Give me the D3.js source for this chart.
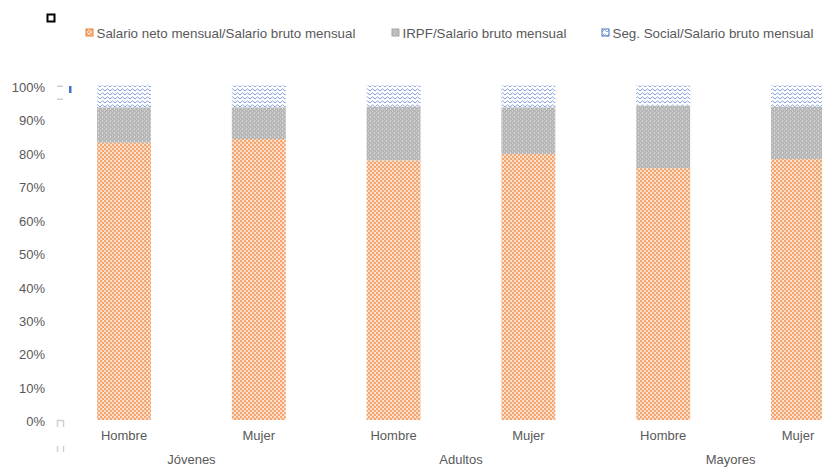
<!DOCTYPE html>
<html>
<head>
<meta charset="utf-8">
<script src="https://cdn.jsdelivr.net/npm/d3@7"></script>
<style>
  body { margin: 0; background: #fff; }
  text { font-family: "Liberation Sans", Arial, sans-serif; fill: #595959; }
</style>
</head>
<body>
<script>
// data (share of gross monthly salary, %)
var groups = ["Jóvenes", "Adultos", "Mayores"];
var sexes = ["Hombre", "Mujer"];
var netoVals = [82.9, 84.0, 77.6, 79.5, 75.3, 78.0];
var irpfVals = [10.6, 9.5, 16.1, 14.0, 18.7, 15.7];
var ssVals = [6.5, 6.5, 6.3, 6.5, 6.0, 6.3];
var seriesNames = ["Salario neto mensual/Salario bruto mensual", "IRPF/Salario bruto mensual", "Seg. Social/Salario bruto mensual"];
var yTicks = [0, 0.1, 0.2, 0.3, 0.4, 0.5, 0.6, 0.7, 0.8, 0.9, 1];

(function(){
  var width = 822, height = 468;

  var svg = d3.select("body").append("svg")
    .attr("width", width)
    .attr("height", height);

  // fill patterns, like the Excel pattern fills
  var defs = svg.append("defs");

  var pOr = defs.append("pattern").attr("id", "pat0")
    .attr("patternUnits", "userSpaceOnUse").attr("width", 4).attr("height", 4);
  pOr.append("rect").attr("width", 4).attr("height", 4).attr("fill", "#fbd9c1");
  pOr.append("rect").attr("width", 2).attr("height", 2).attr("fill", "#f2a772");
  pOr.append("rect").attr("x", 2).attr("y", 2).attr("width", 2).attr("height", 2).attr("fill", "#f2a772");
  pOr.append("rect").attr("x", 3).attr("y", 0).attr("width", 1).attr("height", 1).attr("fill", "#fff4ec");

  var pGr = defs.append("pattern").attr("id", "pat1")
    .attr("patternUnits", "userSpaceOnUse").attr("width", 4).attr("height", 4);
  pGr.append("rect").attr("width", 4).attr("height", 4).attr("fill", "#b7b7b7");
  pGr.append("rect").attr("x", 2).attr("width", 1).attr("height", 2).attr("fill", "#d8d8d8");
  pGr.append("rect").attr("x", 0).attr("y", 2).attr("width", 1).attr("height", 2).attr("fill", "#c9c9c9");

  var pBl = defs.append("pattern").attr("id", "pat2")
    .attr("patternUnits", "userSpaceOnUse").attr("width", 5).attr("height", 4);
  pBl.append("rect").attr("width", 5).attr("height", 4).attr("fill", "#ffffff");
  pBl.append("path").attr("d", "M0,3 L2.5,0.8 L5,3")
    .attr("fill", "none").attr("stroke", "#86a2da").attr("stroke-width", 1);

  var colors = ["url(#pat0)", "url(#pat1)", "url(#pat2)"];

  // one row per bar
  var rows = [];
  groups.forEach(function(g, gi){
    sexes.forEach(function(s, si){
      var i = gi * sexes.length + si;
      rows.push({ key: g + "|" + s, group: g, sex: s, s0: netoVals[i] / 100, s1: irpfVals[i] / 100, s2: ssVals[i] / 100 });
    });
  });

  var x = d3.scaleBand()
    .domain(rows.map(function(d){ return d.key; }))
    .range([56.6, 865.4])
    .paddingInner(0.6)
    .paddingOuter(0.3);

  var y = d3.scaleLinear().domain([0, 1]).range([420, 85.5]);

  var stacked = d3.stack().keys(["s0", "s1", "s2"])(rows);

  svg.selectAll(".layer")
    .data(stacked)
    .enter().append("g")
    .attr("class", "layer")
    .attr("fill", function(d, i){ return colors[i]; })
    .selectAll("rect")
    .data(function(d){ return d; })
    .enter().append("rect")
    .attr("x", function(d){ return x(d.data.key); })
    .attr("y", function(d){ return y(d[1]); })
    .attr("width", x.bandwidth())
    .attr("height", function(d){ return y(d[0]) - y(d[1]); });

  // y axis
  var yAxis = svg.append("g")
    .attr("transform", "translate(48,0)")
    .call(d3.axisLeft(y).tickValues(yTicks).tickSize(0).tickPadding(3).tickFormat(d3.format(".0%")));
  yAxis.select(".domain").remove();
  yAxis.selectAll("text").attr("font-size", 13).attr("dy", "0.45em")
    .style("font-family", "'Liberation Sans', Arial, sans-serif").attr("fill", "#595959");

  // category labels
  svg.selectAll(".sexLab")
    .data(rows)
    .enter().append("text")
    .attr("class", "sexLab")
    .attr("x", function(d){ return x(d.key) + x.bandwidth() / 2; })
    .attr("y", 440)
    .attr("text-anchor", "middle")
    .attr("font-size", 13)
    .text(function(d){ return d.sex; });

  svg.selectAll(".grpLab")
    .data(groups)
    .enter().append("text")
    .attr("class", "grpLab")
    .attr("x", function(g){
      return (x(g + "|" + sexes[0]) + x(g + "|" + sexes[1]) + x.bandwidth()) / 2;
    })
    .attr("y", 464)
    .attr("text-anchor", "middle")
    .attr("font-size", 13)
    .text(function(g){ return g; });

  // legend
  var legX = [86, 392, 602];
  var leg = svg.selectAll(".leg")
    .data(seriesNames)
    .enter().append("g")
    .attr("class", "leg")
    .attr("transform", function(d, i){ return "translate(" + legX[i] + ",29)"; });
  leg.append("rect")
    .attr("width", 7).attr("height", 7)
    .attr("fill", function(d, i){ return colors[i]; })
    .attr("stroke", function(d, i){ return ["#ed7d31", "#a5a5a5", "#4472c4"][i]; })
    .attr("stroke-width", 1);
  leg.append("text")
    .attr("x", 10.5).attr("y", 9)
    .attr("font-size", 13.35)
    .text(function(d){ return d; });

  // stray marks seen in the original picture
  svg.append("rect").attr("x", 47.5).attr("y", 14.5).attr("width", 7).attr("height", 7)
    .attr("fill", "#fff").attr("stroke", "#000").attr("stroke-width", 2);
  svg.append("rect").attr("x", 69).attr("y", 86).attr("width", 2.5).attr("height", 7).attr("fill", "#4472c4");
  [85.5, 98.5].forEach(function(yy){
    svg.append("rect").attr("x", 57).attr("y", yy).attr("width", 6).attr("height", 1.5).attr("fill", "#d0d0d0");
  });
  svg.append("path").attr("d", "M57.5,427 L57.5,420.5 L63.5,420.5 L63.5,427")
    .attr("fill", "none").attr("stroke", "#d0d0d0").attr("stroke-width", 1.5);
  [57.5, 63.5].forEach(function(xx){
    svg.append("line").attr("x1", xx).attr("x2", xx).attr("y1", 446).attr("y2", 452)
      .attr("stroke", "#d0d0d0").attr("stroke-width", 1.5);
  });
})();
</script>
</body>
</html>
